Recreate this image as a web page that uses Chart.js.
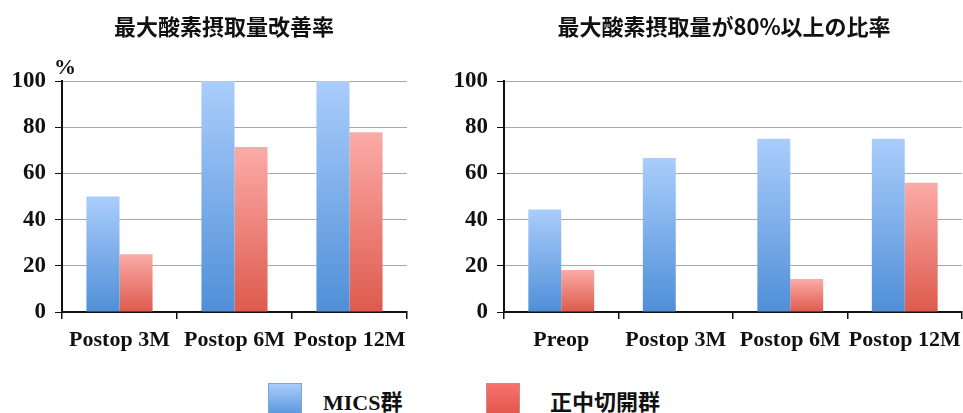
<!DOCTYPE html>
<html>
<head>
<meta charset="utf-8">
<script src="https://cdn.jsdelivr.net/npm/chart.js@4.4.1/dist/chart.umd.min.js"></script>
<style>
  html, body { margin: 0; padding: 0; background: #ffffff; }
  body { width: 963px; height: 413px; position: relative; overflow: hidden; }
  .wrap { position: absolute; top: 0; height: 362px; }
  #leftWrap { left: 0; width: 420px; }
  #rightWrap { left: 440px; width: 523px; }
  .legend-box { position: absolute; top: 383px; width: 32px; height: 31px; }
  .legend-text { position: absolute; top: 386px; font-weight: bold; font-size: 22px; line-height: 28px; color: #111; }
</style>
</head>
<body>
<div class="wrap" id="leftWrap"><canvas id="chartLeft"></canvas></div>
<div class="wrap" id="rightWrap"><canvas id="chartRight"></canvas></div>

<div class="legend-box" style="left:268px; border:1px solid #7fa3d6; background:linear-gradient(#a9ccfa,#5a96dc);"></div>
<div class="legend-text" style="left:323px; font-family:'Liberation Serif','Noto Sans CJK JP',serif;">MICS<span style="font-family:'Noto Sans CJK JP'">群</span></div>
<div class="legend-box" style="left:486px; border:1px solid #c98a8a; background:linear-gradient(#f7736d,#e2544b);"></div>
<div class="legend-text" style="left:550px; font-family:'Noto Sans CJK JP',sans-serif;">正中切開群</div>

<script>
// Series names
const seriesNames = ['MICS群', '正中切開群'];

// Chart 1: improvement rate of peak oxygen uptake (%)
const improveTitle = '最大酸素摂取量改善率';
const improveCategories = ['Postop 3M', 'Postop 6M', 'Postop 12M'];
const improveMics = [50, 100, 100];
const improveMedian = [25, 71.4, 77.8];

// Chart 2: share of patients reaching 80% or more of predicted peak oxygen uptake (%)
const ratioTitle = '最大酸素摂取量が80%以上の比率';
const ratioCategories = ['Preop', 'Postop 3M', 'Postop 6M', 'Postop 12M'];
const ratioMics = [44.4, 66.7, 75, 75];
const ratioMedian = [18.2, 0, 14.3, 56];

// Y axis ticks
const yTicks = [0, 20, 40, 60, 80, 100];

const blueStops = ['#aacdfb', '#4f8fd8'];
const redStops = ['#fbaba7', '#de5a4d'];

function barGradient(stops) {
  return function (ctx) {
    const chart = ctx.chart;
    const solid = stops[1];
    if (!chart.chartArea || ctx.type !== 'data') return solid;
    const y = chart.scales.y;
    const top = y.getPixelForValue(ctx.raw);
    const bottom = y.getPixelForValue(0);
    if (!isFinite(top) || Math.abs(bottom - top) < 1) return solid;
    const g = chart.ctx.createLinearGradient(0, top, 0, bottom);
    g.addColorStop(0, stops[0]);
    g.addColorStop(1, stops[1]);
    return g;
  };
}

// Panel heading and the "%" unit label above the y axis
const panelText = {
  id: 'panelText',
  afterDraw(chart, args, opts) {
    const c = chart.ctx;
    c.save();
    c.fillStyle = '#111';
    if (opts.title) {
      c.font = 'bold 22px "Noto Sans CJK JP", sans-serif';
      c.textAlign = 'center';
      c.textBaseline = 'middle';
      c.fillText(opts.title, opts.titleX, 27);
    }
    if (opts.unit) {
      c.font = 'bold 22px "Liberation Serif", serif';
      c.textAlign = 'left';
      c.textBaseline = 'alphabetic';
      c.fillText(opts.unit, chart.chartArea.left - 8, chart.chartArea.top - 7);
    }
    c.restore();
  }
};

function makeChart(canvasId, title, titleX, categories, mics, median, padRight, yWidth, unit) {
  return new Chart(document.getElementById(canvasId), {
    type: 'bar',
    data: {
      labels: categories,
      datasets: [
        { label: seriesNames[0], data: mics, backgroundColor: barGradient(blueStops) },
        { label: seriesNames[1], data: median, backgroundColor: barGradient(redStops) }
      ]
    },
    options: {
      responsive: true,
      maintainAspectRatio: false,
      animation: false,
      events: [],
      categoryPercentage: 0.575,
      barPercentage: 1.0,
      layout: { padding: { left: 0, right: padRight, top: 81, bottom: 0 } },
      plugins: {
        legend: { display: false },
        tooltip: { enabled: false },
        title: { display: false },
        panelText: { title: title, titleX: titleX, unit: unit }
      },
      scales: {
        x: {
          afterFit(scale) {
            scale.height = 50;
            scale.paddingLeft = 0;
            scale.paddingRight = 0;
          },
          grid: {
            offset: true,
            drawOnChartArea: false,
            drawTicks: true,
            tickLength: 7,
            color: '#111',
            lineWidth: 1.5
          },
          border: { display: true, color: '#111', width: 2 },
          ticks: {
            color: '#111',
            padding: 8,
            autoSkip: false,
            maxRotation: 0,
            minRotation: 0,
            font: { family: '"Liberation Serif", serif', size: 22, weight: 'bold' }
          }
        },
        y: {
          min: 0,
          max: 100,
          afterFit(scale) { scale.width = yWidth; },
          afterBuildTicks(scale) { scale.ticks = yTicks.map(v => ({ value: v })); },
          grid: {
            color: '#a8a8a8',
            lineWidth: 1,
            drawTicks: true,
            tickLength: 7,
            tickColor: '#111'
          },
          border: { display: true, color: '#111', width: 2 },
          ticks: {
            color: '#111',
            padding: 9,
            font: { family: '"Liberation Serif", serif', size: 23, weight: 'bold' }
          }
        }
      }
    },
    plugins: [panelText]
  });
}

makeChart('chartLeft', improveTitle, 224, improveCategories, improveMics, improveMedian, 13, 62, '%');
makeChart('chartRight', ratioTitle, 284, ratioCategories, ratioMics, ratioMedian, 1, 64, '');
</script>
</body>
</html>
